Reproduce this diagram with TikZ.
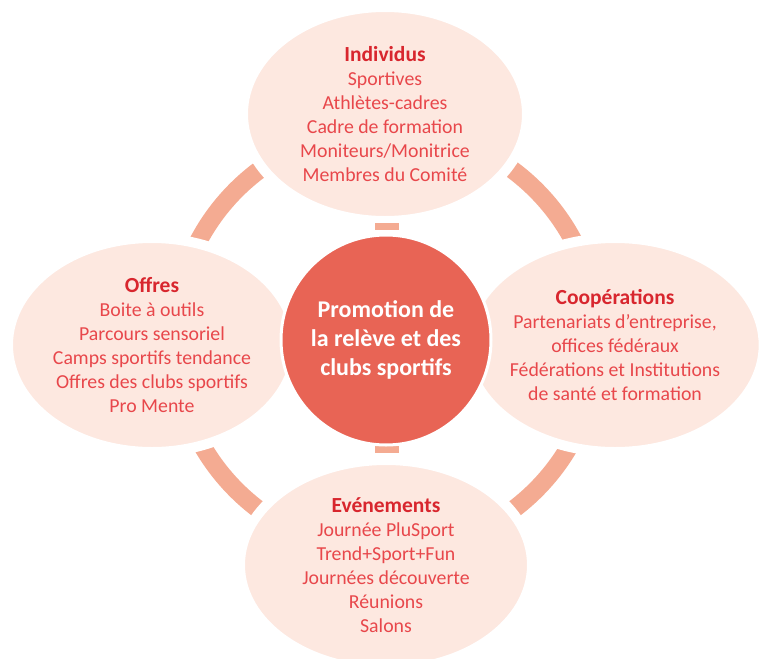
\documentclass[tikz,border=0pt]{standalone}
\usepackage{fontspec}
\setmainfont{Carlito}
\usepackage{tikz}
\usetikzlibrary{shapes.geometric}

\definecolor{petal}{HTML}{FDE8E0}
\definecolor{ringcol}{HTML}{F4AB92}
\definecolor{hubcol}{HTML}{E86455}
\definecolor{headcol}{HTML}{D8262E}
\definecolor{itemcol}{HTML}{E8474B}

\newcommand{\head}[1]{{\fontsize{21.5}{24}\selectfont\bfseries\color{headcol}#1}}

\begin{document}
\begin{tikzpicture}[x=1pt, y=-1pt,
    petalnode/.style={ellipse, fill=petal, draw=white, line width=10pt, align=center,
        text=itemcol, font=\fontsize{19.8}{24}\selectfont, inner sep=0pt},
    hubnode/.style={circle, fill=hubcol, draw=white, line width=3pt, minimum size=210pt,
        align=center, text=white, font=\fontsize{24}{29}\selectfont\bfseries, inner sep=0pt},
    barnode/.style={rectangle, fill=ringcol, minimum width=24pt, minimum height=7pt, inner sep=0pt},
    ringline/.style={draw=ringcol, line width=18pt}]
    \useasboundingbox (0,0) rectangle (761,659);
    
    \coordinate (mid) at (386,340);
    \draw[ringline] (mid) circle[radius=212];
    
    \node[petalnode, minimum width=284pt, minimum height=214pt] (indiv) at (385,114)
        {\head{Individus}\\ Sportives\\ Athlètes-cadres\\ Cadre de formation\\ Moniteurs/Monitrice\\ Membres du Comité};
    \node[petalnode, minimum width=288pt, minimum height=214pt] (offres) at (152,345)
        {\head{Offres}\\ Boite à outils\\ Parcours sensoriel\\ Camps sportifs tendance\\ Offres des clubs sportifs\\ Pro Mente};
    \node[petalnode, minimum width=290pt, minimum height=214pt] (coop) at (615,345)
        {\head{Coopérations}\\ Partenariats d’entreprise,\\ offices fédéraux\\ Fédérations et Institutions\\ de santé et formation};
    \node[petalnode, minimum width=292pt, minimum height=210pt] (event) at (386,565)
        {\head{Evénements}\\ Journée PluSport\\ Trend+Sport+Fun\\ Journées découverte\\ Réunions\\ Salons};
    
    \node[barnode] (bartop) at (387,226.5) {};
    \node[barnode] (barbot) at (387,449.5) {};
    
    \node[hubnode] (hub) at (mid) {Promotion de\\ la relève et des\\ clubs sportifs};
\end{tikzpicture}
\end{document}
